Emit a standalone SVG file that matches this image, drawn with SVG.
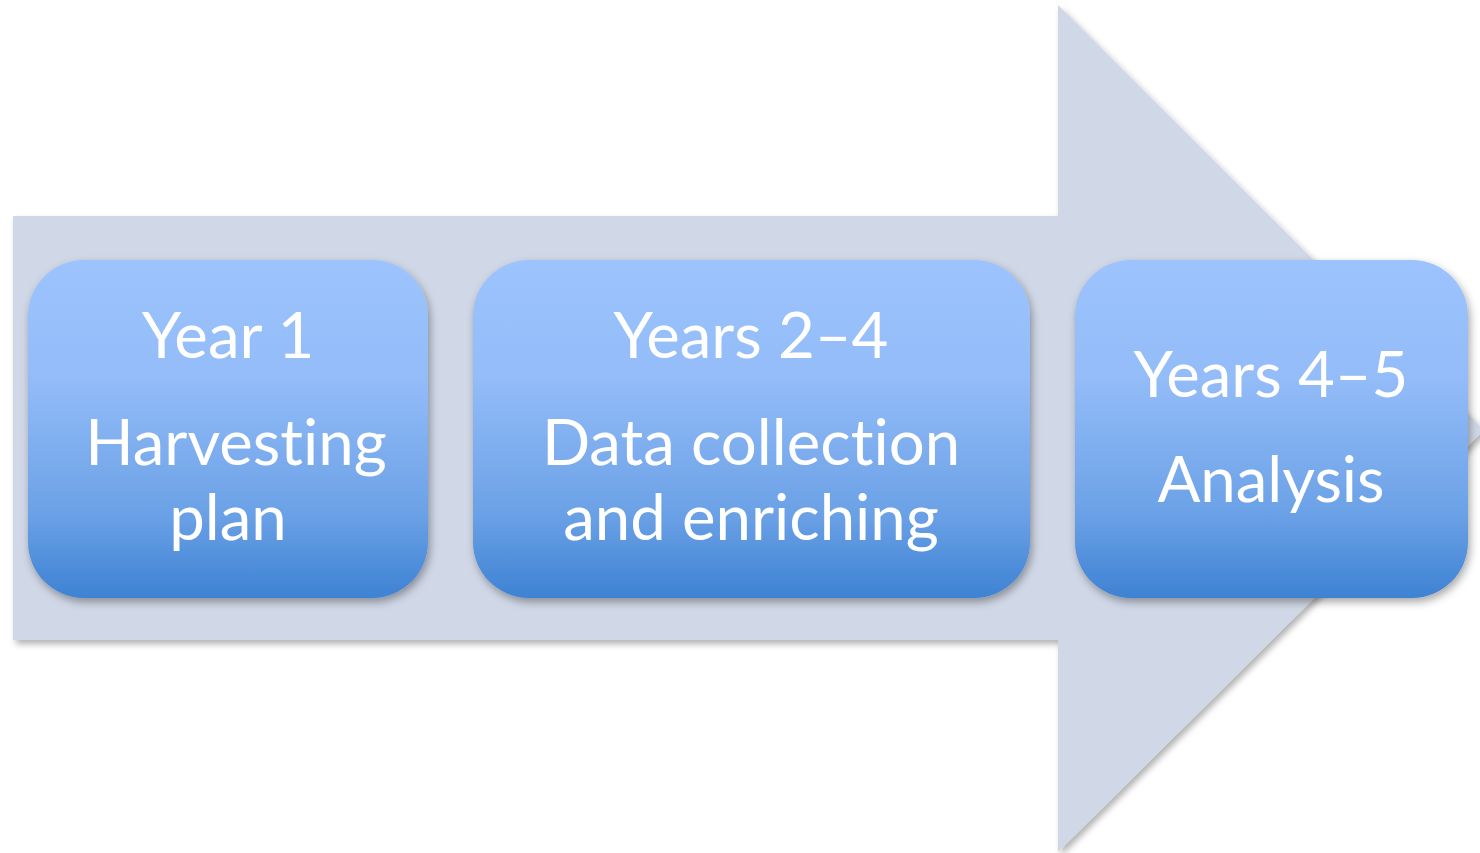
<svg xmlns="http://www.w3.org/2000/svg" width="1480" height="853" viewBox="0 0 1480 853">
<defs>
<linearGradient id="g" x1="0" y1="0" x2="0" y2="1">
<stop offset="0" stop-color="#9CC3FD"/>
<stop offset="0.35" stop-color="#93BCF8"/>
<stop offset="0.75" stop-color="#6BA1E6"/>
<stop offset="1" stop-color="#3E82D3"/>
</linearGradient>
<filter id="sh" x="-10%" y="-10%" width="120%" height="125%">
<feDropShadow dx="2" dy="4" stdDeviation="4" flood-color="#000" flood-opacity="0.35"/>
</filter>
<filter id="ash" x="-5%" y="-5%" width="110%" height="110%">
<feDropShadow dx="3" dy="4" stdDeviation="3" flood-color="#000" flood-opacity="0.3"/>
</filter>
<style>
.box{fill:url(#g);filter:url(#sh)}
.t{font-family:"Lato","Open Sans","Liberation Sans",sans-serif;font-size:63.5px;fill:#fff;text-anchor:middle;font-variant-ligatures:none;font-feature-settings:"liga" 0}
</style>
</defs>
<g id="arrow">
<polygon points="13,216 1058,216 1058,5 1484,430 1058,852 1058,640 13,640" fill="#D0D7E6" filter="url(#ash)"/>
</g>
<g id="node1">
<rect class="box" x="28" y="260" width="400" height="338" rx="56"/>
<text class="t" x="228" y="358">Year 1</text>
<text class="t" x="236" y="465">Harvesting</text>
<text class="t" x="228" y="540">plan</text>
</g>
<g id="node2">
<rect class="box" x="473" y="260" width="557" height="338" rx="56"/>
<text class="t" x="751" y="358">Years 2–4</text>
<text class="t" x="751" y="465">Data collection</text>
<text class="t" x="751" y="540">and enriching</text>
</g>
<g id="node3">
<rect class="box" x="1075" y="260" width="393" height="338" rx="56"/>
<text class="t" x="1271" y="397">Years 4–5</text>
<text class="t" x="1271" y="502">Analysis</text>
</g>
<g id="connectors"></g>
</svg>
